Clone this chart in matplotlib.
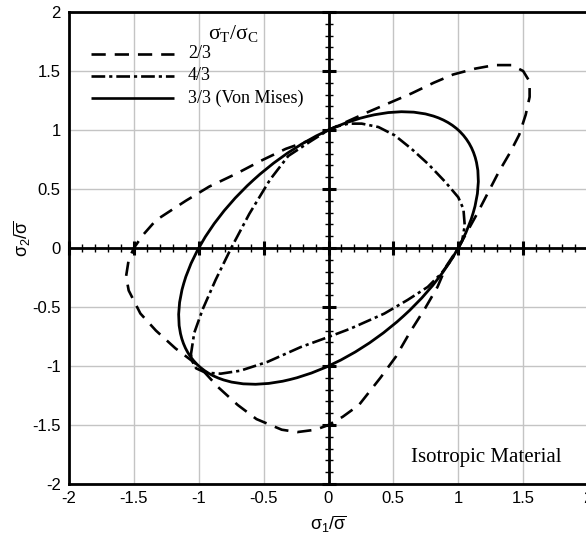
import matplotlib
matplotlib.use("Agg")
import matplotlib.pyplot as plt
from matplotlib.patches import Ellipse
import numpy as np

plt.rcParams["font.family"] = ["Liberation Sans", "DejaVu Sans"]

# Yield locus for sigma_T/sigma_C = 2/3 (counter-clockwise from the tensile point)
ratio_23_s1 = [1.00, 1.08, 1.15, 1.23, 1.31, 1.40, 1.47, 1.52, 1.55, 1.55, 1.50, 1.41,
               1.28, 1.13, 0.96, 0.81, 0.64, 0.47, 0.30, 0.16, 0.00, -0.15, -0.33, -0.51,
               -0.71, -0.92, -1.10, -1.33, -1.43, -1.50, -1.54, -1.56, -1.54, -1.45, -1.33,
               -1.18, -1.00, -0.85, -0.70, -0.555, -0.36, -0.24, -0.10, 0.00, 0.11, 0.235,
               0.40, 0.52, 0.63, 0.745, 0.84, 0.91, 1.00]
ratio_23_s2 = [0.00, 0.16, 0.30, 0.47, 0.64, 0.81, 0.96, 1.13, 1.28, 1.41, 1.50, 1.55,
               1.55, 1.52, 1.47, 1.40, 1.31, 1.23, 1.15, 1.08, 1.00, 0.91, 0.84, 0.745,
               0.63, 0.52, 0.40, 0.235, 0.11, 0.00, -0.10, -0.24, -0.36, -0.555, -0.70,
               -0.85, -1.00, -1.18, -1.33, -1.45, -1.54, -1.56, -1.54, -1.50, -1.43, -1.33,
               -1.10, -0.92, -0.71, -0.51, -0.33, -0.15, 0.00]

# Yield locus for sigma_T/sigma_C = 4/3
ratio_43_s1 = [1.00, 1.03, 1.05, 1.04, 1.00, 0.90, 0.77, 0.64, 0.51, 0.385, 0.256, 0.154,
               0.065, 0.00, -0.13, -0.31, -0.45, -0.61, -0.75, -0.87, -0.97, -1.035, -1.06,
               -1.05, -1.02, -0.96, -0.90, -0.83, -0.68, -0.47, -0.215, 0.00, 0.17, 0.43,
               0.61, 0.765, 0.868, 0.945, 1.00]
ratio_43_s2 = [0.00, 0.06, 0.19, 0.33, 0.43, 0.56, 0.71, 0.84, 0.955, 1.025, 1.054, 1.054,
               1.03, 1.00, 0.91, 0.78, 0.58, 0.29, 0.00, -0.27, -0.52, -0.72, -0.90,
               -0.96, -1.02, -1.05, -1.06, -1.065, -1.04, -0.965, -0.84, -0.754, -0.683, -0.556,
               -0.44, -0.33, -0.217, -0.105, 0.00]

# Von Mises ellipse (3/3): centre, full axis lengths along the two diagonals, tilt
vm_center = (0.0, 0.0)
vm_major = 2.828
vm_minor = 1.633
vm_angle = 45.0

tick_values = [-2, -1.5, -1, -0.5, 0, 0.5, 1, 1.5, 2]
tick_labels = ["-2", "-1.5", "-1", "-0.5", "0", "0.5", "1", "1.5", "2"]
legend_title = r"$\mathregular{\sigma_T/\sigma_C}$"
legend_labels = ["2/3", "4/3", "3/3 (Von Mises)"]
note_text = "Isotropic Material"

W, H = 586, 537
fig = plt.figure(figsize=(W / 100, H / 100), dpi=100)
ax = fig.add_axes([69 / W, 53 / H, 519 / W, 472 / H])
ax.set_xlim(-2, 2)
ax.set_ylim(-2, 2)

for side in ("top", "left", "bottom", "right"):
    ax.spines[side].set_linewidth(2.0)
    ax.spines[side].set_color("black")

ax.set_xticks(tick_values, tick_labels)
ax.set_yticks(tick_values, tick_labels)
ax.tick_params(axis="both", length=0, labelsize=12, colors="black")
ax.tick_params(axis="x", pad=5)
ax.tick_params(axis="y", pad=6)
ax.grid(True, color="#c4c4c4", linewidth=1.0, zorder=0)
ax.set_axisbelow(True)

# Inner coordinate axes with their own tick marks
ax.axhline(0, color="black", lw=2.0, zorder=2)
ax.axvline(0, color="black", lw=2.0, zorder=2)
minor = np.round(np.arange(-2.0, 2.001, 0.1), 2)
major = np.round(np.arange(-2.0, 2.001, 0.5), 2)
zeros_m = np.zeros_like(minor)
zeros_M = np.zeros_like(major)
ax.plot(minor, zeros_m, ls="none", marker="|", ms=6, mew=1.0, color="black", zorder=2, clip_on=False)
ax.plot(major, zeros_M, ls="none", marker="|", ms=10, mew=2.2, color="black", zorder=2, clip_on=False)
ax.plot(zeros_m, minor, ls="none", marker="_", ms=6, mew=1.0, color="black", zorder=2, clip_on=False)
ax.plot(zeros_M, major, ls="none", marker="_", ms=10, mew=2.2, color="black", zorder=2, clip_on=False)

dash_style = (0, (5.4, 3.4))
dashdot_style = (0, (5.2, 1.5, 1.2, 1.5))
lw = 1.9

ax.plot(ratio_23_s1, ratio_23_s2, color="black", lw=lw, ls=dash_style, zorder=3)
ax.plot(ratio_43_s1, ratio_43_s2, color="black", lw=lw, ls=dashdot_style, zorder=3)
ax.add_patch(Ellipse(vm_center, vm_major, vm_minor, angle=vm_angle,
                     fill=False, edgecolor="black", lw=2.0, zorder=3))

ax.set_xlabel(r"$\mathregular{\sigma_1/\overline{\sigma}}$", fontsize=13)
ax.set_ylabel(r"$\mathregular{\sigma_2/\overline{\sigma}}$", fontsize=13)
ax.xaxis.set_label_coords(0.5, -0.062)
ax.yaxis.set_label_coords(-0.07, 0.52)

# Legend drawn in axes fraction coordinates
def px_to_ax(px, py):
    return (px - 69) / 519, (484 - py) / 472

serif = ["Liberation Serif", "DejaVu Serif"]
styles = [dash_style, dashdot_style, "-"]
rows_py = [54, 76, 98]
for style, label, py in zip(styles, legend_labels, rows_py):
    x0, y0 = px_to_ax(91, py)
    x1, _ = px_to_ax(174, py)
    ax.plot([x0, x1], [y0, y0], transform=ax.transAxes, color="black", lw=lw, ls=style,
            solid_capstyle="butt", dash_capstyle="butt")
    tx, ty = px_to_ax(188, py)
    ax.text(tx, ty, label, transform=ax.transAxes, family=serif, fontsize=13,
            ha="left", va="center")

tx, ty = px_to_ax(233, 33)
ax.text(tx, ty, legend_title, transform=ax.transAxes, family=serif, fontsize=15.5,
        ha="center", va="center")

nx, ny = px_to_ax(411, 462)
ax.text(nx, ny, note_text, transform=ax.transAxes, family=serif, fontsize=15,
        ha="left", va="baseline")

fig.savefig("out.png", dpi=100)
